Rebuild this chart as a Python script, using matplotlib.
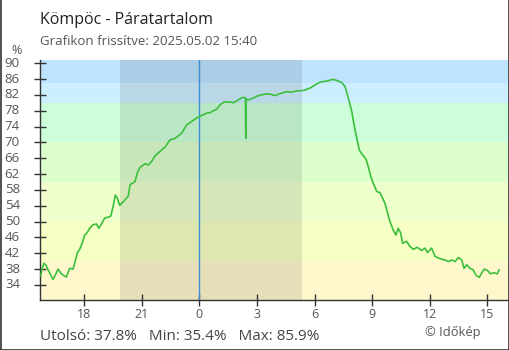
import numpy as np
import matplotlib
matplotlib.use("Agg")
import matplotlib.pyplot as plt
from matplotlib.lines import Line2D

plt.rcParams['font.family'] = ['Open Sans', 'DejaVu Sans']

# hours relative to midnight (negative = previous day), humidity in %
hours = [-8.26, -8.19, -8.09, -7.97, -7.88, -7.74, -7.62, -7.50, -7.36, -7.22,
         -7.10, -6.93, -6.75, -6.58, -6.49, -6.35, -6.23, -6.11, -5.97, -5.83,
         -5.71, -5.54, -5.36, -5.24, -5.10, -4.93, -4.76, -4.61, -4.49, -4.38,
         -4.27, -4.15, -3.96, -3.70, -3.61, -3.35, -3.21, -3.09, -2.83, -2.66,
         -2.48, -2.31, -2.05, -1.79, -1.53, -1.27, -0.92, -0.66, -0.40, -0.05,
         0.21, 0.39, 0.56, 0.73, 0.91, 1.08, 1.29, 1.60, 1.77, 2.03,
         2.21, 2.40, 2.42, 2.44, 2.55, 2.81, 3.07, 3.42, 3.68, 3.94,
         4.20, 4.55, 4.81, 5.07, 5.42, 5.77, 6.03, 6.29, 6.64, 6.98,
         7.24, 7.42, 7.59, 7.68, 7.81, 7.94, 8.06, 8.20, 8.33, 8.51,
         8.68, 8.80, 8.93, 9.06, 9.24, 9.41, 9.55, 9.67, 9.79, 9.93,
         10.10, 10.24, 10.36, 10.49, 10.59, 10.80, 10.97, 11.15, 11.35, 11.58,
         11.76, 11.88, 12.10, 12.28, 12.45, 12.63, 12.80, 12.98, 13.15, 13.32,
         13.49, 13.67, 13.79, 13.93, 14.10, 14.27, 14.41, 14.58, 14.71, 14.83,
         15.00, 15.18, 15.35, 15.52, 15.62]
humidity = [36.3, 38.2, 39.5, 38.8, 37.8, 36.5, 35.4, 36.5, 38.0, 37.0,
            36.5, 36.0, 38.2, 38.0, 39.5, 42.2, 43.0, 44.5, 46.6, 47.3,
            48.3, 49.2, 49.4, 48.3, 49.4, 50.9, 51.1, 51.4, 53.8, 56.7,
            55.9, 54.1, 55.0, 56.5, 59.3, 60.1, 62.6, 63.7, 64.6, 64.3,
            65.2, 66.6, 67.7, 68.8, 70.6, 71.0, 72.3, 74.4, 75.3, 76.4,
            77.0, 77.4, 77.5, 78.0, 78.4, 79.5, 80.2, 80.2, 80.0, 80.7,
            81.3, 81.3, 71.0, 80.9, 80.7, 81.2, 81.8, 82.2, 82.2, 81.8,
            82.3, 82.8, 82.7, 83.0, 83.1, 83.7, 84.5, 85.2, 85.5, 85.9,
            85.5, 85.1, 84.1, 82.6, 80.3, 77.8, 74.4, 71.1, 68.1, 66.8,
            65.8, 63.9, 61.4, 59.7, 57.6, 57.3, 55.9, 54.6, 52.5, 50.0,
            47.9, 46.6, 48.3, 47.1, 44.5, 45.0, 43.7, 43.0, 43.5, 42.7,
            43.3, 42.2, 43.3, 41.2, 40.8, 40.5, 40.3, 39.9, 40.3, 39.9,
            40.9, 40.3, 38.2, 39.1, 38.2, 37.8, 36.5, 35.9, 37.0, 38.0,
            37.7, 36.8, 37.1, 36.8, 37.8]

band_edges = [0, 40, 50, 60, 70, 80, 85, 100]
band_colors = ['#fff7cc', '#f6ffc4', '#eeffcc', '#ddffcc', '#ccffd9', '#cceeff', '#bde3ff']
night = (-4.12, 5.35)
tick_hours = [-6, -3, 0, 3, 6, 9, 12, 15]
tick_labels = ['18', '21', '0', '3', '6', '9', '12', '15']
y_ticks = list(range(34, 91, 4))

fig = plt.figure(figsize=(5.1, 3.5), dpi=100)
ax = fig.add_axes([40/510, 50/350, 468/510, 240/350])

for lo, hi, c in zip(band_edges[:-1], band_edges[1:], band_colors):
    ax.axhspan(lo, hi, color=c, lw=0, zorder=0)
ax.axvspan(night[0], night[1], color='#404040', alpha=0.13, lw=0, zorder=1)
ax.axvline(0, color='#3c8fd2', lw=1, zorder=2)

ax.plot(hours, humidity, color='#3cbf3c', lw=1.2, zorder=3)

ax.set_xlim(-8.30, 16.08)
ax.set_ylim(30.2, 90.8)
ax.set_xticks(tick_hours)
ax.set_xticklabels(tick_labels)
ax.set_yticks(y_ticks)
ax.set_yticklabels([])

for s in ['top', 'right']:
    ax.spines[s].set_visible(False)
for s in ['left', 'bottom']:
    ax.spines[s].set_color('#333333')
    ax.spines[s].set_linewidth(1)
ax.tick_params(axis='both', direction='inout', length=8.6, width=1, color='#333333',
               labelcolor='#555555', labelsize=9, pad=1.5)

# y labels sit well left of the ticks
ytr = ax.get_yaxis_transform()
for v in y_ticks:
    ax.text(-20/468, v, str(v), transform=ytr, ha='right', va='center',
            fontsize=9.5, color='#555555', clip_on=False)

fig.text(17/510, 1 - 51/350, '%', ha='center', va='center', fontsize=9, color='#555555')
fig.text(40/510, 1 - 23.5/350, 'Kömpöc - Páratartalom', ha='left', va='baseline',
         fontsize=11.5, color='#222222')
fig.text(40/510, 1 - 45/350, 'Grafikon frissítve: 2025.05.02 15:40', ha='left',
         va='baseline', fontsize=9.5, color='#555555')
stats = f"Utolsó: {humidity[-1]:.1f}%   Min: {min(humidity):.1f}%   Max: {max(humidity):.1f}%"
fig.text(40/510, 1 - 339.5/350, stats, ha='left', va='baseline', fontsize=11, color='#444444')
fig.text(425/510, 1 - 336/350, '© Időkép', ha='left', va='baseline', fontsize=9.3, color='#555555')

# thin frame around the picture
for xs, ys in [([0.5/510, 0.5/510], [0, 1]), ([509.5/510, 509.5/510], [0, 1]),
               ([0, 1], [0.5/350, 0.5/350])]:
    fig.add_artist(Line2D(xs, ys, color='#333333', lw=1.2, transform=fig.transFigure))

fig.savefig('out.png', dpi=100)
